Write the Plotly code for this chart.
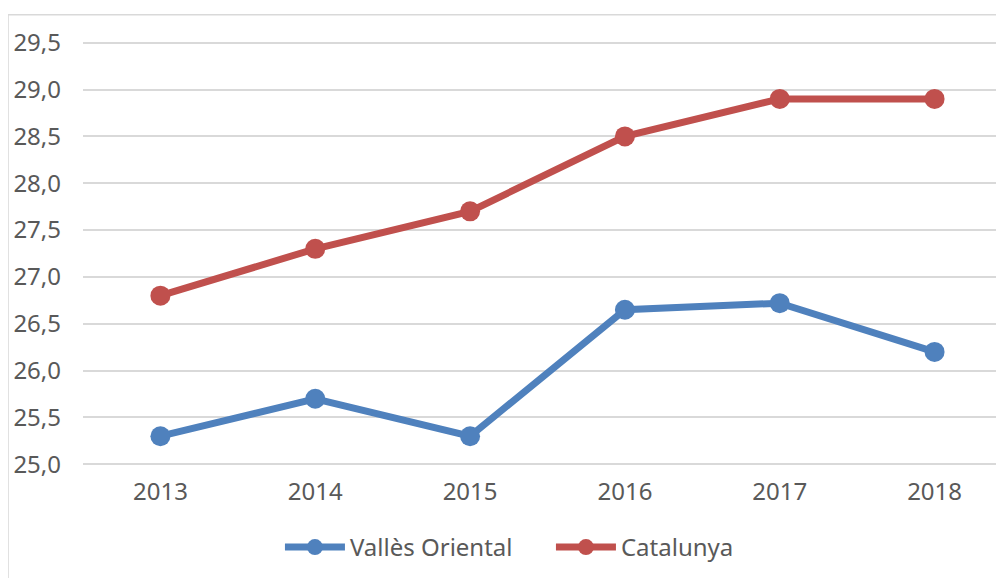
import plotly.graph_objects as go

years = ["2013", "2014", "2015", "2016", "2017", "2018"]
valles = [25.3, 25.7, 25.3, 26.65, 26.72, 26.2]
catalunya = [26.8, 27.3, 27.7, 28.5, 28.9, 28.9]
y_ticks = [25.0, 25.5, 26.0, 26.5, 27.0, 27.5, 28.0, 28.5, 29.0, 29.5]

font_family = "Noto Sans"
txt = "#595959"
fs = 24

fig = go.Figure()
fig.add_trace(go.Scatter(x=years, y=valles, name="Vallès Oriental", mode="lines+markers",
                         line=dict(color="#4F81BD", width=7),
                         marker=dict(size=20, color="#4F81BD")))
fig.add_trace(go.Scatter(x=years, y=catalunya, name="Catalunya", mode="lines+markers",
                         line=dict(color="#C0504D", width=7),
                         marker=dict(size=20, color="#C0504D")))

# chart border (left and top visible)
fig.add_shape(type="line", xref="paper", yref="paper", x0=-0.0807, x1=-0.0807, y0=1.054, y1=-0.3,
              line=dict(color="#D9D9D9", width=1.5))
fig.add_shape(type="line", xref="paper", yref="paper", x0=-0.0807, x1=1.01, y0=1.054, y1=1.054,
              line=dict(color="#D9D9D9", width=1.5))

fig.update_layout(
    width=1004, height=578,
    margin=dict(l=75, r=0, t=30.3, b=117.3),
    paper_bgcolor="white", plot_bgcolor="white",
    separators=",.",
    font=dict(family=font_family, size=fs, color=txt),
    showlegend=True,
    legend=dict(orientation="h", x=0.212, xanchor="left", y=-0.182, yanchor="middle",
                font=dict(size=fs, color=txt), itemwidth=60, traceorder="normal",
                entrywidth=196, entrywidthmode="pixels"),
    xaxis=dict(type="category", range=[-0.5, 5.5], showgrid=False, showline=False,
               ticks="", ticklabelstandoff=6, tickfont=dict(size=fs, color=txt)),
    yaxis=dict(range=[24.95, 29.55], tickvals=y_ticks, tickformat=".1f",
               showgrid=True, gridcolor="#D9D9D9", gridwidth=1.5, zeroline=False,
               showline=False, ticks="", ticklabelstandoff=21, tickfont=dict(size=fs, color=txt)),
)

fig.write_html("out.html")
